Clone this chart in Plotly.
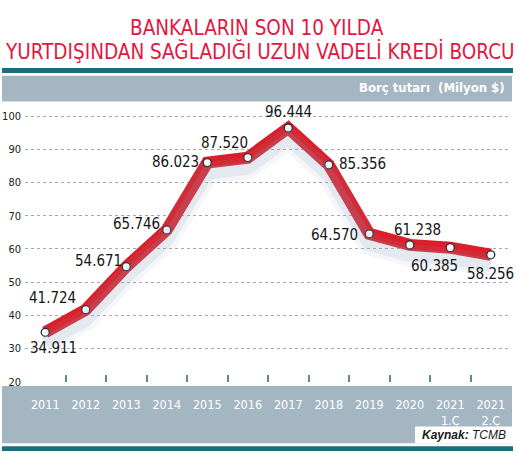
import plotly.graph_objects as go

categories = ["2011", "2012", "2013", "2014", "2015", "2016", "2017", "2018",
              "2019", "2020", "2021<br>1.Ç", "2021<br>2.Ç"]
values = [34.911, 41.724, 54.671, 65.746, 86.023, 87.520, 96.444, 85.356,
          64.570, 61.238, 60.385, 58.256]
labels = ["34.911", "41.724", "54.671", "65.746", "86.023", "87.520", "96.444",
          "85.356", "64.570", "61.238", "60.385", "58.256"]
y_ticks = [20, 30, 40, 50, 60, 70, 80, 90, 100]

# label offsets in pixels (style only)
label_shift = [(8, -16), (-33, 12), (-28, 6), (-30, 6), (-32, 1), (-23, 15),
               (0, 16), (34, 1), (-35, -1), (8, 15), (-16, -18), (0, -19)]

W, H = 519, 463
def py(p):
    return 1 - p / H
def px(p):
    return p / W

NARROW = "DejaVu Sans Condensed, Liberation Sans Narrow, Roboto Condensed, Arial Narrow, sans-serif"
RED = "#da1f2a"
GREYBAND = "#a5b6c3"
TEAL = "#1d6d7e"

YMIN, YMAX = 19.9, 104.44
SHADOW_OFF = 3.2

fig = go.Figure()

# soft shadow (two layers)
fig.add_trace(go.Scatter(
    x=categories, y=values, mode="lines", yaxis="y2",
    line=dict(color="rgba(150,170,195,0.10)", width=22),
    hoverinfo="skip", showlegend=False))
fig.add_trace(go.Scatter(
    x=categories, y=values, mode="lines", yaxis="y2",
    line=dict(color="rgba(150,170,195,0.16)", width=13),
    hoverinfo="skip", showlegend=False))

fig.add_trace(go.Scatter(
    x=categories, y=values, mode="lines+markers",
    line=dict(color=RED, width=12),
    marker=dict(size=8, color="white", line=dict(color="#2a2a2a", width=1.3)),
    showlegend=False))

for i, (v, t, (dx, dy)) in enumerate(zip(values, labels, label_shift)):
    fig.add_annotation(x=i, y=v, text=t, showarrow=False, xshift=dx, yshift=dy,
                       xanchor="center", yanchor="middle",
                       font=dict(family=NARROW, size=15, color="#161616"))

shapes = [
    dict(type="rect", xref="paper", yref="paper", x0=px(2), x1=px(513),
         y0=py(74), y1=py(69), fillcolor=TEAL, line_width=0, layer="below"),
    dict(type="rect", xref="paper", yref="paper", x0=px(2), x1=px(512),
         y0=py(103), y1=py(77), fillcolor=GREYBAND, line_width=0, layer="below"),
    dict(type="rect", xref="paper", yref="paper", x0=px(2), x1=px(512),
         y0=py(450), y1=py(392), fillcolor=GREYBAND, line_width=0, layer="below"),
    dict(type="rect", xref="paper", yref="paper", x0=px(2), x1=px(513),
         y0=py(458), y1=py(453), fillcolor=TEAL, line_width=0, layer="below"),
    dict(type="rect", xref="paper", yref="paper", x0=px(415), x1=px(512),
         y0=py(450), y1=py(433), fillcolor="white", line_width=0, layer="below"),
]

annotations_extra = [
    dict(text="BANKALARIN SON 10 YILDA", x=px(257), y=py(28), xref="paper", yref="paper",
         xanchor="center", showarrow=False, font=dict(family=NARROW, size=20.5, color="#e2173f")),
    dict(text="YURTDIŞINDAN SAĞLADIĞI UZUN VADELİ KREDİ BORCU", x=px(260), y=py(52),
         xref="paper", yref="paper", xanchor="center", showarrow=False,
         font=dict(family=NARROW, size=20.5, color="#e2173f")),
    dict(text="<b>Borç tutarı  (Milyon $)</b>", x=px(507), y=py(89), xref="paper",
         yref="paper", xanchor="right", showarrow=False,
         font=dict(family=NARROW, size=13, color="white")),
    dict(text="<b><i>Kaynak:</i></b> <i>TCMB</i>", x=px(508), y=py(442), xref="paper",
         yref="paper", xanchor="right", showarrow=False,
         font=dict(family="Liberation Sans, sans-serif", size=12, color="#1a1a1a")),
]
for a in annotations_extra:
    a["yanchor"] = "middle"
    fig.add_annotation(**a)

fig.update_layout(
    width=W, height=H,
    margin=dict(l=0, r=0, t=0, b=0),
    paper_bgcolor="white", plot_bgcolor="rgba(0,0,0,0)",
    shapes=shapes,
    xaxis=dict(domain=[px(25), px(511)], type="category", range=[-0.5, 11.5],
               tickson="boundaries", ticks="inside", ticklen=7, tickwidth=2,
               tickcolor="#5f8c80", showgrid=False, zeroline=False, showline=False,
               tickangle=0,
               tickfont=dict(family=NARROW, size=12.5, color="white"),
               ticklabelstandoff=13),
    yaxis=dict(domain=[py(388), py(103)], range=[YMIN, YMAX], tickvals=y_ticks,
               showgrid=True, gridcolor="#a8a8a8", griddash="dot", gridwidth=1,
               zeroline=False, showline=False,
               tickfont=dict(family=NARROW, size=11, color="#222"),
               ticklabelstandoff=3),
    yaxis2=dict(domain=[py(388), py(103)], range=[YMIN + SHADOW_OFF, YMAX + SHADOW_OFF],
                overlaying="y", visible=False),
)

fig.write_html("out.html", config={"displayModeBar": False},
               post_script="document.body.style.margin='0';document.body.style.overflow='hidden';")
